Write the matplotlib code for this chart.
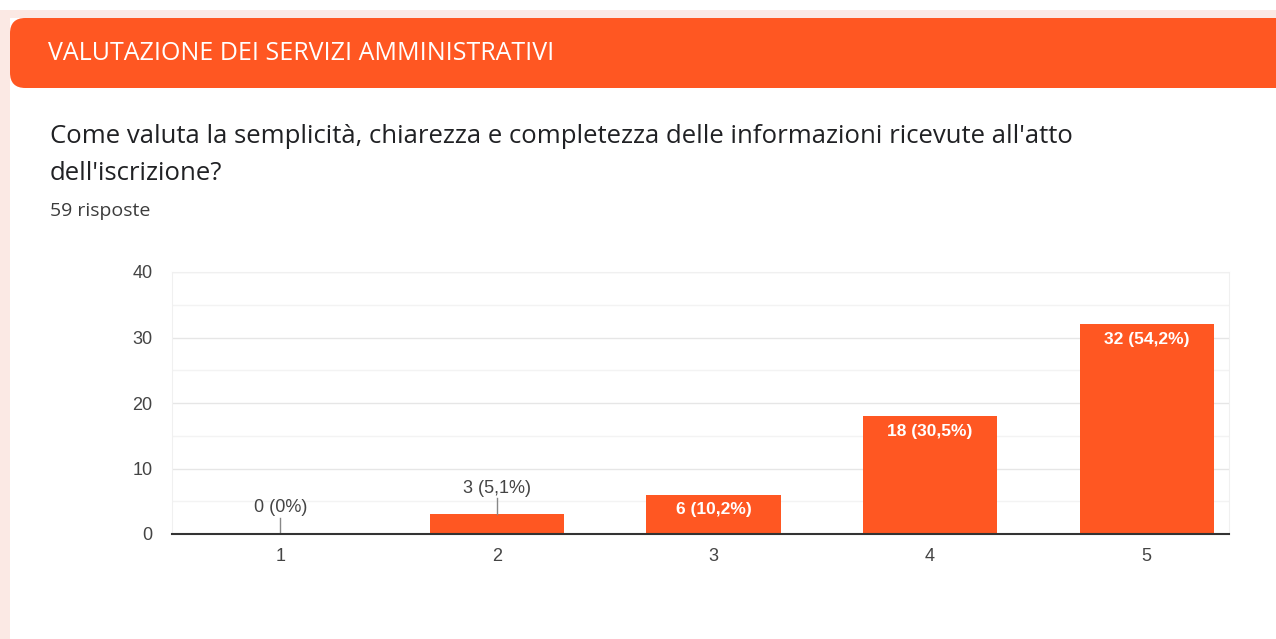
import matplotlib.pyplot as plt
from matplotlib.patches import FancyBboxPatch, Rectangle

# Dati
categorie = ["1", "2", "3", "4", "5"]
valori = [0, 3, 6, 18, 32]
etichette = ["0 (0%)", "3 (5,1%)", "6 (10,2%)", "18 (30,5%)", "32 (54,2%)"]
y_ticks = [0, 10, 20, 30, 40]

titolo = "VALUTAZIONE DEI SERVIZI AMMINISTRATIVI"
domanda = "Come valuta la semplicità, chiarezza e completezza delle informazioni ricevute all'atto\ndell'iscrizione?"
risposte = "59 risposte"

arancio = "#ff5722"
plt.rcParams["font.family"] = ["Open Sans", "DejaVu Sans"]
arial = ["Liberation Sans", "DejaVu Sans"]

fig = plt.figure(figsize=(12.76, 6.39), dpi=100)
fig.patch.set_facecolor("white")

# Bordo rosato e intestazione arancione
fig.patches.append(Rectangle((0, 0), 1, 1 - 10 / 639, transform=fig.transFigure,
                             facecolor="#fbe9e4", edgecolor="none", zorder=-10))
fig.patches.append(Rectangle((10 / 1276, 0), 1, 1 - 18 / 639, transform=fig.transFigure,
                             facecolor="white", edgecolor="none", zorder=-9))
fig.patches.append(FancyBboxPatch((10 / 1276, 1 - 88 / 639), 1.05, 70 / 639,
                                  boxstyle="round,pad=0,rounding_size=0.012",
                                  transform=fig.transFigure, facecolor=arancio,
                                  edgecolor="none", zorder=-8, mutation_aspect=2.0))

fig.text(48 / 1276, 1 - 53 / 639, titolo, color="white", fontsize=18,
         va="center", ha="left")
fig.text(50 / 1276, 1 - 155 / 639, domanda, color="#202124", fontsize=18.5,
         va="center", ha="left", linespacing=1.65)
fig.text(50 / 1276, 1 - 211 / 639, risposte, color="#3c3c3c", fontsize=14,
         va="center", ha="left")

# Grafico a barre
ax = fig.add_axes([172 / 1276, 1 - 534 / 639, (1229 - 172) / 1276, (534 - 272) / 639])
x = list(range(1, len(categorie) + 1))
ax.bar(x, valori, width=0.62, color=arancio, zorder=3)

ax.set_xlim(0.5, 5.38)
ax.set_ylim(0, 40)
ax.set_yticks(y_ticks)
ax.set_yticks([5, 15, 25, 35], minor=True)
ax.set_xticks(x)
ax.set_xticklabels(categorie, fontfamily=arial)
ax.set_yticklabels([str(t) for t in y_ticks], fontfamily=arial)
ax.tick_params(axis="both", length=0, labelsize=13, labelcolor="#444444")
ax.tick_params(axis="x", pad=10)
ax.tick_params(axis="y", pad=14)
ax.tick_params(which="minor", length=0)
ax.grid(axis="y", which="major", color="#e6e6e6", linewidth=1, zorder=0)
ax.grid(axis="y", which="minor", color="#f3f3f3", linewidth=1, zorder=0)
for s in ["top", "left", "right"]:
    ax.spines[s].set_color("#f0f0f0")
ax.spines["bottom"].set_color("#333333")
ax.spines["bottom"].set_linewidth(1.5)
ax.spines["bottom"].set_zorder(4)

for xi, v, lab in zip(x, valori, etichette):
    if v < 5:
        ax.plot([xi, xi], [v, v + 2.5], color="#888888", linewidth=1, zorder=4)
        ax.text(xi, v + 4.0, lab, ha="center", va="center", fontsize=13,
                color="#444444", fontfamily=arial)
    else:
        ax.text(xi, v - 2.3, lab, ha="center", va="center", fontsize=12.5,
                color="white", fontfamily=arial, fontweight="bold")

plt.savefig("out.png", dpi=100)
